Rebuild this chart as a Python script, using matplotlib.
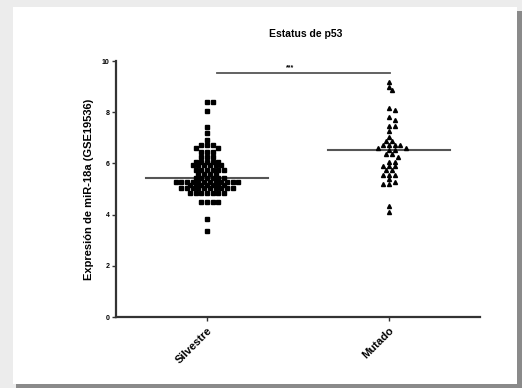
import numpy as np
import matplotlib
matplotlib.use('Agg')
import matplotlib.pyplot as plt
from matplotlib.patches import Rectangle

plt.rcParams['font.family'] = ['Liberation Sans', 'DejaVu Sans']

# data
categories = ['Silvestre', 'Mutado']
silvestre = [8.41, 8.41, 8.06, 7.41, 7.18, 6.91,
             6.72, 6.72, 6.72, 6.61, 6.61, 6.46, 6.46, 6.46, 6.26, 6.26, 6.26,
             6.05, 6.05, 6.05, 6.05, 6.05, 5.92, 5.92, 5.92, 5.92, 5.92, 5.92,
             5.74, 5.74, 5.74, 5.74, 5.74, 5.74, 5.58, 5.58, 5.58, 5.58,
             5.44, 5.44, 5.44, 5.44, 5.44, 5.44,
             5.29, 5.29, 5.29, 5.29, 5.29, 5.29, 5.29, 5.29, 5.29, 5.29, 5.29, 5.29,
             5.16, 5.16, 5.16, 5.16, 5.16, 5.16, 5.16,
             5.03, 5.03, 5.03, 5.03, 5.03, 5.03, 5.03, 5.03, 5.03, 5.03,
             4.85, 4.85, 4.85, 4.85, 4.85, 4.85, 4.85,
             4.50, 4.50, 4.48, 4.48, 3.82, 3.37]
mutado = [9.17, 9.00, 8.85, 8.18, 8.08, 7.82, 7.70, 7.46, 7.46, 7.28, 7.04, 6.88, 6.88,
          6.72, 6.72, 6.72, 6.72, 6.61, 6.61, 6.52, 6.52, 6.36, 6.36, 6.24, 6.07, 6.07,
          5.90, 5.90, 5.90, 5.74, 5.74, 5.55, 5.55, 5.55, 5.38, 5.29, 5.20, 5.20, 4.35, 4.12]
center_lines = [5.44, 6.52]
sig_y = 9.54
yticks = [0, 2, 4, 6, 8, 10]

W, H = 522, 388
fig = plt.figure(figsize=(W / 100, H / 100), dpi=100)
fig.patch.set_facecolor('#ececec')

# panel with shadow, on a background axes
bg = fig.add_axes([0, 0, 1, 1], zorder=-5)
bg.set_xlim(0, W)
bg.set_ylim(H, 0)
bg.axis('off')
bg.add_patch(Rectangle((16, 11), 506, 377, facecolor='#8a8a8a', edgecolor='none'))
bg.add_patch(Rectangle((13, 7), 504, 377, facecolor='white', edgecolor='none'))

ax = fig.add_axes([116 / W, 1 - 317 / H, 364 / W, 256 / H])
ax.set_facecolor('none')
ax.set_xlim(-0.5, 1.5)
ax.set_ylim(0, 10)

px_x = 364 / 2.0   # pixels per x unit
px_y = 256 / 10.0  # pixels per y unit


def swarm(values, pitch=5.7, dmin=4.2):
    # greedy placement on a half-pitch grid, closest to the centre first
    order = np.argsort(values, kind='stable')[::-1]
    cands = [0.0]
    for k in range(1, 30):
        cands += [k * pitch / 2, -k * pitch / 2]
    placed = []
    offs = np.zeros(len(values))
    for i in order:
        yv = values[i] * px_y
        for xo in cands:
            if not any((px - xo) ** 2 + (py - yv) ** 2 < dmin ** 2 for (px, py) in placed):
                break
        placed.append((xo, yv))
        offs[i] = xo / px_x
    return offs


markers = ['s', '^']
for i, vals in enumerate([silvestre, mutado]):
    vals = np.array(vals)
    xs = i + swarm(vals)
    ax.plot(xs, vals, linestyle='none', marker=markers[i], markersize=2.3 if i == 0 else 2.9,
            color='black', zorder=3, clip_on=False)
    ax.plot([i - 0.335, i + 0.335], [center_lines[i]] * 2, color='#555555', lw=1.5, zorder=2)

ax.plot([0.053, 1.005], [sig_y, sig_y], color='#555555', lw=1.3)
ax.text(0.456, sig_y + 0.05, '***', ha='center', va='bottom', fontsize=5, fontweight='bold')

for s in ['top', 'right']:
    ax.spines[s].set_visible(False)
for s in ['left', 'bottom']:
    ax.spines[s].set_color('#333333')
    ax.spines[s].set_linewidth(1.6)

ax.set_yticks(yticks)
ax.set_yticklabels([str(t) for t in yticks], fontsize=5, fontweight='bold')
ax.set_xticks([0, 1])
ax.set_xticklabels(categories, rotation=45, ha='right', rotation_mode='anchor',
                   fontsize=8, fontweight='bold')
ax.tick_params(axis='both', length=3, width=1, color='#333333', pad=1.5)
ax.tick_params(axis='x', pad=3)
ax.set_ylabel('Expresión de miR-18a (GSE19536)', fontsize=8, fontweight='bold', labelpad=6)
ax.set_title('Estatus de p53', fontsize=7.5, fontweight='bold', x=0.52, pad=17)

fig.savefig('out.png', dpi=100, facecolor=fig.get_facecolor())
